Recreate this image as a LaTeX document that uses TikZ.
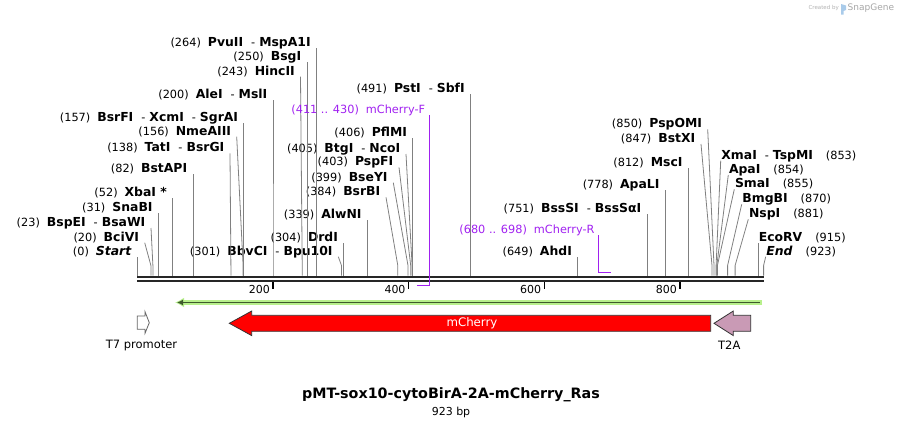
\documentclass[tikz,border=0pt]{standalone}
\usepackage{fontspec}
\setmainfont{DejaVu Sans}
\usepackage{tikz}
\usetikzlibrary{arrows.meta}
\usetikzlibrary{positioning}
\definecolor{cutgray}{HTML}{808080}
\definecolor{primer}{HTML}{A020F0}
\definecolor{featgreen}{HTML}{B8F08C}
\definecolor{featdark}{HTML}{3E5A2C}
\definecolor{tpink}{HTML}{C99AB5}
\definecolor{logoblue}{HTML}{A9CBEA}
\tikzset{>=latex}
\tikzstyle{cut} = [-, draw=cutgray, line width=0.8pt]
\tikzstyle{site} = [anchor=south east, inner xsep=5.5pt, inner ysep=0.3pt, text height=9.5pt, text depth=1.2pt, font=\fontsize{11.3}{13}\selectfont]
\tikzstyle{rsite} = [site, anchor=south west, inner xsep=0.5pt]
\tikzstyle{oligo} = [site, text=primer, inner xsep=4pt]
\tikzstyle{feat} = [draw=black!80, line width=0.8pt]
\tikzstyle{tick} = [-, draw=black, line width=1.4pt]
\tikzstyle{ticklab} = [inner sep=0.5pt, font=\fontsize{11}{12}\selectfont]
\newcommand{\enz}[1]{{\fontsize{12.4}{14}\selectfont\bfseries #1}}
\newcommand{\numsp}{\hspace{7pt}}
\newcommand{\cutsp}{\hspace{8pt}-\hspace{4pt}}
\newcommand{\posp}{\hspace{13pt}}

\begin{document}
\begin{tikzpicture}[x=1pt, y=-1pt]
\useasboundingbox (0,0) rectangle (903,426);

% sequence bar
\coordinate (seqL) at (137.3,277);
\coordinate (seqR) at (763.6,277);
\coordinate (seqL2) at (137.3,281.2);
\coordinate (seqR2) at (763.6,281.2);
\draw [line width=2.6pt, draw=black!85] (seqL) -- (seqR);
\draw [line width=2.3pt, draw=black!85] (seqL2) -- (seqR2);

% ruler
\coordinate (k200) at (273,289);
\coordinate (k400) at (408.7,289);
\coordinate (k600) at (544.4,289);
\coordinate (k800) at (680.1,289);
\draw [tick] (273,282.3) -- (k200);
\draw [tick] (408.7,282.3) -- (k400);
\draw [tick] (544.4,282.3) -- (k600);
\draw [tick] (680.1,282.3) -- (k800);
\node [ticklab, left=2.5pt of k200] (l200) {200};
\node [ticklab, left=2.5pt of k400] (l400) {400};
\node [ticklab, left=2.5pt of k600] (l600) {600};
\node [ticklab, left=2.5pt of k800] (l800) {800};

% cut sites on the bar
\coordinate (c0) at (137.3,275.5);
\coordinate (c20) at (150.9,275.5);
\coordinate (c23) at (152.9,275.5);
\coordinate (c31) at (158.3,275.5);
\coordinate (c52) at (172.6,275.5);
\coordinate (c82) at (192.9,275.5);
\coordinate (c138) at (230.9,275.5);
\coordinate (c156) at (243.1,275.5);
\coordinate (c157) at (243.8,275.5);
\coordinate (c200) at (273,275.5);
\coordinate (c243) at (302.2,275.5);
\coordinate (c250) at (306.9,275.5);
\coordinate (c264) at (316.4,275.5);
\coordinate (c301) at (341.5,275.5);
\coordinate (c304) at (343.6,275.5);
\coordinate (c339) at (367.3,275.5);
\coordinate (c384) at (397.8,275.5);
\coordinate (c399) at (408,275.5);
\coordinate (c403) at (410.7,275.5);
\coordinate (c405) at (412.1,275.5);
\coordinate (c406) at (412.8,275.5);
\coordinate (c491) at (470.4,275.5);
\coordinate (c649) at (577.6,275.5);
\coordinate (c751) at (646.9,275.5);
\coordinate (c778) at (665.2,275.5);
\coordinate (c812) at (688.2,275.5);
\coordinate (c847) at (712,275.5);
\coordinate (c850) at (714,275.5);
\coordinate (c853) at (716.1,275.5);
\coordinate (c854) at (716.8,275.5);
\coordinate (c855) at (717.4,275.5);
\coordinate (c870) at (727.6,275.5);
\coordinate (c881) at (735.1,275.5);
\coordinate (c915) at (758.1,275.5);
\coordinate (c923) at (763.6,275.5);

% enzyme labels
\node [site] (Start) at (137.3,256.7) {(0)\numsp\enz{\textit{Start}}};
\node [site] (BciVI) at (144.7,242.7) {(20)\numsp\enz{BciVI}};
\node [site] (BspEI) at (151,228) {(23)\numsp\enz{BspEI}\cutsp\enz{BsaWI}};
\node [site] (SnaBI) at (158.3,213.3) {(31)\numsp\enz{SnaBI}};
\node [site] (XbaI) at (172.6,198.3) {(52)\numsp\enz{XbaI *}};
\node [site] (BstAPI) at (192.9,174.3) {(82)\numsp\enz{BstAPI}};
\node [site] (TatI) at (230,153.3) {(138)\numsp\enz{TatI}\cutsp\enz{BsrGI}};
\node [site] (NmeAIII) at (236.7,136.7) {(156)\numsp\enz{NmeAIII}};
\node [site] (BsrFI) at (243.8,123.3) {(157)\numsp\enz{BsrFI}\cutsp\enz{XcmI}\cutsp\enz{SgrAI}};
\node [site] (AleI) at (273,100) {(200)\numsp\enz{AleI}\cutsp\enz{MslI}};
\node [site] (HincII) at (300.5,76.7) {(243)\numsp\enz{HincII}};
\node [site] (BsgI) at (306.9,62.3) {(250)\numsp\enz{BsgI}};
\node [site] (PvuII) at (316.4,48.3) {(264)\numsp\enz{PvuII}\cutsp\enz{MspA1I}};
\node [site] (BbvCI) at (338.3,256.7) {(301)\numsp\enz{BbvCI}\cutsp\enz{Bpu10I}};
\node [site] (DrdI) at (343.6,243.3) {(304)\numsp\enz{DrdI}};
\node [site] (AlwNI) at (367.3,220) {(339)\numsp\enz{AlwNI}};
\node [site] (BsrBI) at (386,197.3) {(384)\numsp\enz{BsrBI}};
\node [site] (BseYI) at (393.3,182.7) {(399)\numsp\enz{BseYI}};
\node [site] (PspFI) at (399,167.3) {(403)\numsp\enz{PspFI}};
\node [site] (BtgI) at (406,154) {(405)\numsp\enz{BtgI}\cutsp\enz{NcoI}};
\node [site] (PflMI) at (412.8,138.3) {(406)\numsp\enz{PflMI}};
\node [site] (PstI) at (470.4,94) {(491)\numsp\enz{PstI}\cutsp\enz{SbfI}};
\node [site] (AhdI) at (577.6,256.7) {(649)\numsp\enz{AhdI}};
\node [site] (BssSI) at (646.9,214) {(751)\numsp\enz{BssSI}\cutsp\enz{BssSαI}};
\node [site] (ApaLI) at (665.2,190) {(778)\numsp\enz{ApaLI}};
\node [site] (MscI) at (688.2,168.3) {(812)\numsp\enz{MscI}};
\node [site] (BstXI) at (701,144) {(847)\numsp\enz{BstXI}};
\node [site] (PspOMI) at (707.7,129.3) {(850)\numsp\enz{PspOMI}};
\node [rsite] (XmaI) at (720.7,160.7) {\enz{XmaI}\cutsp\enz{TspMI}\posp(853)};
\node [rsite] (ApaI) at (728.3,175) {\enz{ApaI}\posp(854)};
\node [rsite] (SmaI) at (734.3,189.3) {\enz{SmaI}\posp(855)};
\node [rsite] (BmgBI) at (741.7,204.3) {\enz{BmgBI}\posp(870)};
\node [rsite] (NspI) at (748.3,219.3) {\enz{NspI}\posp(881)};
\node [rsite] (EcoRV) at (758.1,243.3) {\enz{EcoRV}\posp(915)};
\node [rsite] (End) at (765.7,256.7) {\enz{\textit{End}}\posp(923)};

% cut lines
\draw [cut] (c0) -- ++(0,-10) -- (Start.south east);
\draw [cut] (c20) -- ++(0,-10) -- (BciVI.south east);
\draw [cut] (c23) -- ++(0,-10) -- (BspEI.south east);
\draw [cut] (c31) -- ++(0,-10) -- (SnaBI.south east);
\draw [cut] (c52) -- ++(0,-10) -- (XbaI.south east);
\draw [cut] (c82) -- ++(0,-10) -- (BstAPI.south east);
\draw [cut] (c138) -- ++(0,-10) -- (TatI.south east);
\draw [cut] (c156) -- ++(0,-10) -- (NmeAIII.south east);
\draw [cut] (c157) -- ++(0,-10) -- (BsrFI.south east);
\draw [cut] (c200) -- ++(0,-10) -- (AleI.south east);
\draw [cut] (c243) -- ++(0,-10) -- (HincII.south east);
\draw [cut] (c250) -- ++(0,-10) -- (BsgI.south east);
\draw [cut] (c264) -- ++(0,-10) -- (PvuII.south east);
\draw [cut] (c301) -- ++(0,-10) -- (BbvCI.south east);
\draw [cut] (c304) -- ++(0,-10) -- (DrdI.south east);
\draw [cut] (c339) -- ++(0,-10) -- (AlwNI.south east);
\draw [cut] (c384) -- ++(0,-10) -- (BsrBI.south east);
\draw [cut] (c399) -- ++(0,-10) -- (BseYI.south east);
\draw [cut] (c403) -- ++(0,-10) -- (PspFI.south east);
\draw [cut] (c405) -- ++(0,-10) -- (BtgI.south east);
\draw [cut] (c406) -- ++(0,-10) -- (PflMI.south east);
\draw [cut] (c491) -- ++(0,-10) -- (PstI.south east);
\draw [cut] (c649) -- ++(0,-10) -- (AhdI.south east);
\draw [cut] (c751) -- ++(0,-10) -- (BssSI.south east);
\draw [cut] (c778) -- ++(0,-10) -- (ApaLI.south east);
\draw [cut] (c812) -- ++(0,-10) -- (MscI.south east);
\draw [cut] (c847) -- ++(0,-10) -- (BstXI.south east);
\draw [cut] (c850) -- ++(0,-10) -- (PspOMI.south east);
\draw [cut] (c853) -- ++(0,-10) -- (XmaI.south west);
\draw [cut] (c854) -- ++(0,-10) -- (ApaI.south west);
\draw [cut] (c855) -- ++(0,-10) -- (SmaI.south west);
\draw [cut] (c870) -- ++(0,-10) -- (BmgBI.south west);
\draw [cut] (c881) -- ++(0,-10) -- (NspI.south west);
\draw [cut] (c915) -- ++(0,-10) -- (EcoRV.south west);
\draw [cut] (c923) -- ++(0,-10) -- (End.south west);

% primers
\node [oligo] (mchF) at (429.3,115) {(411 .. 430)\numsp mCherry-F};
\node [oligo] (mchR) at (598.7,235) {(680 .. 698)\numsp mCherry-R};
\coordinate (f430) at (429.3,285.7);
\coordinate (f411) at (416.7,285.7);
\coordinate (r680) at (598.7,272.7);
\coordinate (r698) at (610.9,272.7);
\draw [draw=primer, line width=1.2pt] (mchF.south east) -- (f430) -- (f411);
\draw [draw=primer, line width=1.2pt] (mchR.south east) -- (r680) -- (r698);

% features
\coordinate (gR) at (762,302.5);
\coordinate (gL) at (175,302.5);
\draw [-{Latex[length=9pt, width=10pt]}, draw=featgreen, line width=5pt] (gR) -- (gL);
\draw [-{Latex[length=6pt, width=6pt]}, draw=featdark, line width=1.8pt] ([xshift=-2pt]gR) -- ([xshift=2pt]gL);

\draw [feat, fill=red] (710.7,315.3) -- (251.7,315.3) -- (251.7,311) -- (229.3,323.3)
  -- (251.7,335.6) -- (251.7,331.3) -- (710.7,331.3) -- cycle;
\node [text=white, font=\fontsize{11.8}{13}\selectfont] (mCherry) at (472,323.3) {mCherry};

\draw [feat, fill=tpink] (750.7,315.3) -- (733.3,315.3) -- (733.3,311) -- (714,323.3)
  -- (733.3,335.6) -- (733.3,331.3) -- (750.7,331.3) -- cycle;
\node [font=\fontsize{11.5}{13}\selectfont] (T2A) at (729.3,345) {T2A};

\draw [draw=black!60, fill=white, line width=0.8pt] (137.3,316) -- (145,316) -- (145,311.7)
  -- (149.3,322.7) -- (145,333.3) -- (145,329.3) -- (137.3,329.3) -- cycle;
\node [font=\fontsize{11.5}{13}\selectfont] (T7) at (141.5,345) {T7 promoter};

% title
\node [font=\bfseries\fontsize{14.3}{16}\selectfont] (title) at (451,395) {pMT-sox10-cytoBirA-2A-mCherry\_Ras};
\node [below=0pt of title, inner sep=1pt, font=\fontsize{11}{12}\selectfont] (size) {923 bp};

% credit
\node [anchor=east, inner sep=0pt, text=black!30, font=\fontsize{5.5}{6}\selectfont] (made) at (839,7.5) {Created by};
\fill [logoblue] (841,4) -- (846,5.5) -- (846,10) -- (843.5,11) -- (843.5,14.5) -- (841,14.5) -- cycle;
\node [anchor=west, inner sep=0pt, text=black!35, font=\fontsize{9}{10}\selectfont] (snap) at (847.5,8) {SnapGene};
\end{tikzpicture}
\end{document}
